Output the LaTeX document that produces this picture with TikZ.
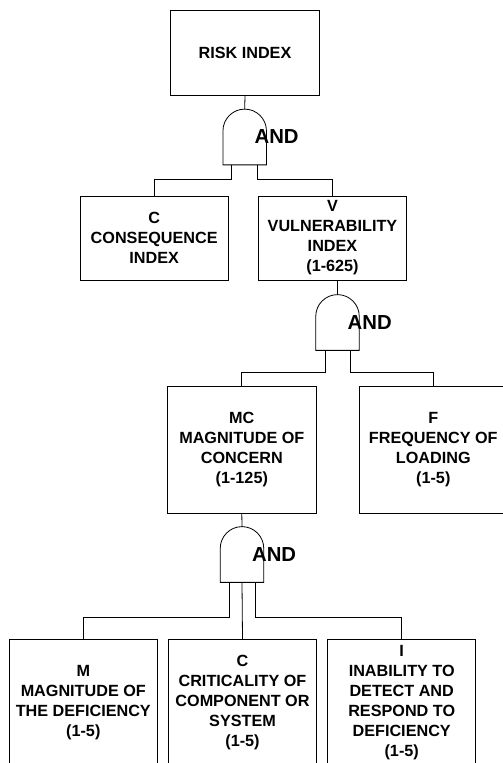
\documentclass[tikz,border=0pt]{standalone}
\usepackage{fontspec}
\setmainfont{Liberation Sans}
\begin{document}
\begin{tikzpicture}[x=1pt,y=1pt,line width=0.8pt,
  blk/.style={draw, minimum width=148.3pt, align=center, inner sep=0pt, font=\fontsize{16.2}{20}\selectfont\bfseries},
  gate/.style={minimum width=43.5pt, minimum height=55.75pt, inner sep=0pt, outer sep=0pt},
  gatelbl/.style={anchor=west, inner sep=0pt, font=\fontsize{20.3}{24}\selectfont\bfseries}]
\clip (0,0) rectangle (503,763);
\node[blk, minimum height=85pt] (risk) at (245,710.5) {RISK INDEX};
\node[blk, minimum height=84pt] (cons) at (154.2,525) {C\\CONSEQUENCE\\INDEX};
\node[blk, minimum height=84pt] (vul) at (332.5,525) {V\\VULNERABILITY\\INDEX\\(1-625)};
\node[blk, minimum height=127pt] (mc) at (241.8,313.5) {MC\\MAGNITUDE OF\\CONCERN\\(1-125)};
\node[blk, minimum height=127pt] (freq) at (433.3,313.5) {F\\FREQUENCY OF\\LOADING\\(1-5)};
\node[blk, minimum height=126pt] (mag) at (83.3,60.7) {M\\MAGNITUDE OF\\THE DEFICIENCY\\(1-5)};
\node[blk, minimum height=126pt] (crit) at (242.5,60.7) {C\\CRITICALITY OF\\COMPONENT OR\\SYSTEM\\(1-5)};
\node[blk, minimum height=126pt] (inab) at (401.7,60.7) {I\\INABILITY TO\\DETECT AND\\RESPOND TO\\DEFICIENCY\\(1-5)};
% and gates
\node[gate] (g1) at (244.7,626) {};
\node[gate] (g2) at (337.5,440.5) {};
\node[gate] (g3) at (242,208.5) {};
\foreach \g in {g1,g2,g3}
  \draw (\g.south west) -- ++(0,34) arc[start angle=180,end angle=0,radius=21.75] -- (\g.south east) -- cycle;
\node[gatelbl] (and1) at ([xshift=9.5]g1.center) {AND};
\node[gatelbl] (and2) at ([xshift=9.8]g2.center) {AND};
\node[gatelbl] (and3) at ([xshift=9.7]g3.center) {AND};
% connectors
\draw (risk.south) -- (g1.north);
\draw ([xshift=-13]g1.south) -- ++(0,-14.4) -| (cons.north);
\draw ([xshift=13]g1.south) -- ++(0,-14.4) -| (vul.north);
\draw (vul.south -| g2.north) -- (g2.north);
\draw ([xshift=-12.5]g2.south) -- ++(0,-22.3) -| (mc.north);
\draw ([xshift=13]g2.south) -- ++(0,-22.3) -| (freq.north);
\draw (mc.south) -- (g3.north);
\draw ([xshift=-13]g3.south) -- ++(0,-35.3) -| (mag.north);
\draw (g3.south) -- (crit.north);
\draw ([xshift=13.5]g3.south) -- ++(0,-35.3) -| (inab.north);
\end{tikzpicture}
\end{document}
